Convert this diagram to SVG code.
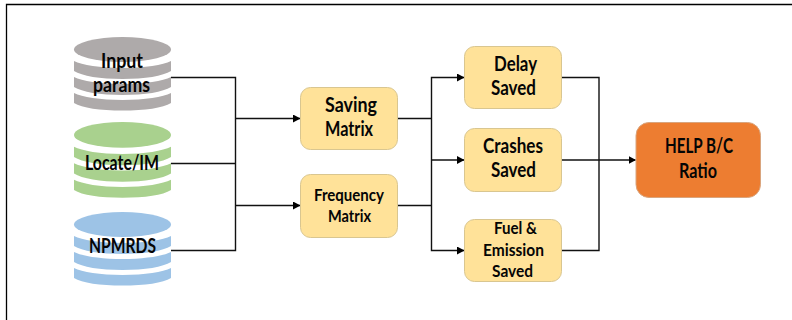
<svg xmlns="http://www.w3.org/2000/svg" width="792" height="320" viewBox="0 0 792 320">
<style>
.t{font-family:Lato,"Open Sans","Liberation Sans",sans-serif;font-weight:700;fill:#050505}
.b{font-size:20px}.s{font-size:17.500px}
.y{fill:#ffe299;stroke:#d9c690;stroke-width:1}
.c{fill:none;stroke:#111;stroke-width:1.400}
</style>
<defs>
<marker id="a" markerUnits="userSpaceOnUse" markerWidth="8" markerHeight="8" refX="7" refY="4" orient="auto"><path d="M0 0L7.500 4L0 8Z" fill="#000"/></marker>
<g id="cyl">
<ellipse cx="122.500" cy="12.500" rx="48.500" ry="12.500"/>
<path d="M74 24v10c8 5 26 8 48.500 8s40.500-3 48.500-8v-10c-8 4-26 7-48.500 7s-40.500-3-48.500-7z"/>
<path d="M74 40v10c8 5 26 8 48.500 8s40.500-3 48.500-8v-10c-8 4-26 7-48.500 7s-40.500-3-48.500-7z"/>
<path d="M74 56v10c8 5 26 7.500 48.500 7.500s40.500-2.500 48.500-7.500v-10c-8 4-26 7-48.500 7s-40.500-3-48.500-7z"/>
</g>
</defs>
<rect width="792" height="320" fill="#fff"/>
<path d="M6.500 320V4.500H792" fill="none" stroke="#000" stroke-width="1.300"/>
<g id="connectors" class="c">
<path d="M171 77.500H235.500V250.500H171M171 163.500H235.500"/>
<path d="M235.500 118.500H300" marker-end="url(#a)"/>
<path d="M235.500 205.500H300" marker-end="url(#a)"/>
<path d="M398 118.500H431.500M398 205.500H431.500"/>
<path d="M431.500 160V77.500H464" marker-end="url(#a)"/>
<path d="M431.500 160H464" marker-end="url(#a)"/>
<path d="M431.500 160V250.500H464" marker-end="url(#a)"/>
<path d="M562 77.500H599V250.500H562"/>
<path d="M562 160H635.500" marker-end="url(#a)"/>
</g>
<g id="input-params"><use href="#cyl" y="37" fill="#aeaaaa"/>
<text class="t b" x="101" y="68" textLength="42" lengthAdjust="spacingAndGlyphs">Input</text>
<text class="t b" x="93" y="92" textLength="57" lengthAdjust="spacingAndGlyphs">params</text></g>
<g id="locate-im"><use href="#cyl" transform="translate(0 122) scale(1 1.03)" fill="#a9d18e"/>
<text class="t b" x="85" y="170" textLength="74" lengthAdjust="spacingAndGlyphs">Locate/IM</text></g>
<g id="npmrds"><use href="#cyl" y="212" fill="#9dc3e6"/>
<text class="t b" x="89" y="253" textLength="67" lengthAdjust="spacingAndGlyphs">NPMRDS</text></g>
<g id="saving-matrix"><rect class="y" x="300.500" y="87.500" width="97" height="62" rx="10"/>
<text class="t b" x="325" y="112" textLength="52" lengthAdjust="spacingAndGlyphs">Saving</text>
<text class="t b" x="325" y="136" textLength="48" lengthAdjust="spacingAndGlyphs">Matrix</text></g>
<g id="frequency-matrix"><rect class="y" x="300.500" y="174.500" width="97" height="63" rx="10"/>
<text class="t s" x="314" y="200.500" textLength="70" lengthAdjust="spacingAndGlyphs">Frequency</text>
<text class="t s" x="328" y="221.500" textLength="43" lengthAdjust="spacingAndGlyphs">Matrix</text></g>
<g id="delay-saved"><rect class="y" x="464.500" y="46.500" width="97" height="62" rx="10"/>
<text class="t b" x="494" y="71" textLength="43" lengthAdjust="spacingAndGlyphs">Delay</text>
<text class="t b" x="491" y="95" textLength="45" lengthAdjust="spacingAndGlyphs">Saved</text></g>
<g id="crashes-saved"><rect class="y" x="464.500" y="128.500" width="97" height="63" rx="10"/>
<text class="t b" x="483" y="153" textLength="60" lengthAdjust="spacingAndGlyphs">Crashes</text>
<text class="t b" x="491" y="177" textLength="45" lengthAdjust="spacingAndGlyphs">Saved</text></g>
<g id="fuel-emission-saved"><rect class="y" x="464.500" y="219.500" width="97" height="62" rx="10"/>
<text class="t s" x="494" y="234" textLength="43" lengthAdjust="spacingAndGlyphs">Fuel &amp;</text>
<text class="t s" x="483" y="255.500" textLength="61" lengthAdjust="spacingAndGlyphs">Emission</text>
<text class="t s" x="492" y="277" textLength="41" lengthAdjust="spacingAndGlyphs">Saved</text></g>
<g id="help-bc-ratio"><rect x="636" y="122.500" width="124.500" height="75" rx="13" fill="#ed7d31" stroke="#d9a57e"/>
<text class="t b" x="665" y="153" textLength="68" lengthAdjust="spacingAndGlyphs">HELP B/C</text>
<text class="t b" x="679" y="178" textLength="38" lengthAdjust="spacingAndGlyphs">Ratio</text></g>
</svg>
